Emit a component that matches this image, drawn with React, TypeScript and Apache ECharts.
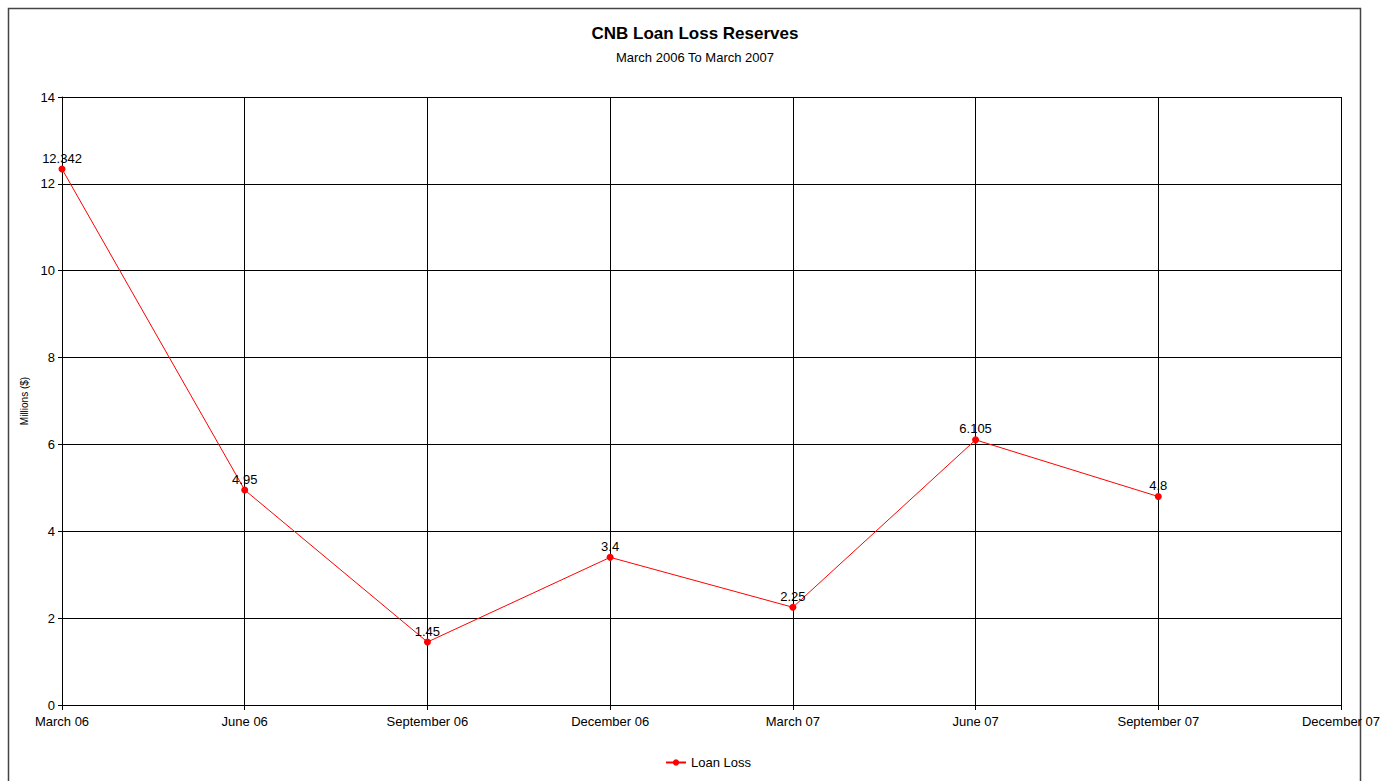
import React, { useEffect, useRef } from "react";
import * as echarts from "echarts";

const categories = [
  "March 06",
  "June 06",
  "September 06",
  "December 06",
  "March 07",
  "June 07",
  "September 07",
  "December 07",
];
const loanLoss = [12.342, 4.95, 1.45, 3.4, 2.25, 6.105, 4.8];
const yTicks = { min: 0, max: 14, interval: 2 };

const FONT = "'Liberation Sans Narrow', 'Liberation Sans', Arial, sans-serif";

export default function App() {
  const ref = useRef<HTMLDivElement>(null);

  useEffect(() => {
    document.body.style.margin = "0";
    const chart = echarts.init(ref.current!, null, { renderer: "svg" });
    chart.setOption({
      animation: false,
      backgroundColor: "#ffffff",
      textStyle: { fontFamily: FONT },
      title: {
        text: "CNB Loan Loss Reserves",
        subtext: "March 2006 To March 2007",
        left: "center",
        top: 20,
        itemGap: 9,
        textStyle: { fontFamily: FONT, fontSize: 17, fontWeight: "bold", color: "#000" },
        subtextStyle: { fontFamily: FONT, fontSize: 13, color: "#000" },
      },
      graphic: [
        {
          type: "rect",
          shape: { x: 8.5, y: 8.5, width: 1352, height: 800 },
          style: { fill: "none", stroke: "#444", lineWidth: 1.5 },
          silent: true,
          z: -1,
        },
      ],
      legend: {
        bottom: 7,
        left: 660,
        itemWidth: 20,
        itemHeight: 8,
        itemGap: 10,
        textStyle: { fontFamily: FONT, fontSize: 13, color: "#000" },
        data: ["Loan Loss"],
      },
      grid: { left: 62, right: 49, top: 97, bottom: 76 },
      xAxis: {
        type: "category",
        data: categories,
        boundaryGap: false,
        axisLine: { lineStyle: { color: "#000", width: 1 } },
        axisTick: { show: true, length: 5, alignWithLabel: true, lineStyle: { color: "#000" } },
        axisLabel: {
          interval: 0,
          margin: 10,
          fontFamily: FONT,
          fontSize: 13,
          color: "#000",
        },
        splitLine: { show: true, lineStyle: { color: "#000", width: 1 } },
      },
      yAxis: {
        type: "value",
        min: yTicks.min,
        max: yTicks.max,
        interval: yTicks.interval,
        name: "Millions ($)",
        nameLocation: "middle",
        nameRotate: 90,
        nameGap: 33,
        nameTextStyle: { fontFamily: FONT, fontSize: 10, color: "#000" },
        axisLine: { show: true, lineStyle: { color: "#000", width: 1 } },
        axisTick: { show: true, length: 4, lineStyle: { color: "#000" } },
        axisLabel: { margin: 7, fontFamily: FONT, fontSize: 13, color: "#000" },
        splitLine: { show: true, lineStyle: { color: "#000", width: 1 } },
      },
      series: [
        {
          name: "Loan Loss",
          type: "line",
          data: loanLoss,
          color: "#ff0000",
          symbol: "circle",
          symbolSize: 7,
          lineStyle: { color: "#ff0000", width: 1 },
          itemStyle: { color: "#ff0000" },
          label: {
            show: true,
            position: "top",
            distance: 1,
            fontFamily: FONT,
            fontSize: 13,
            color: "#000",
          },
        },
      ],
    });
    return () => chart.dispose();
  }, []);

  return <div ref={ref} style={{ width: 1390, height: 781 }} />;
}
